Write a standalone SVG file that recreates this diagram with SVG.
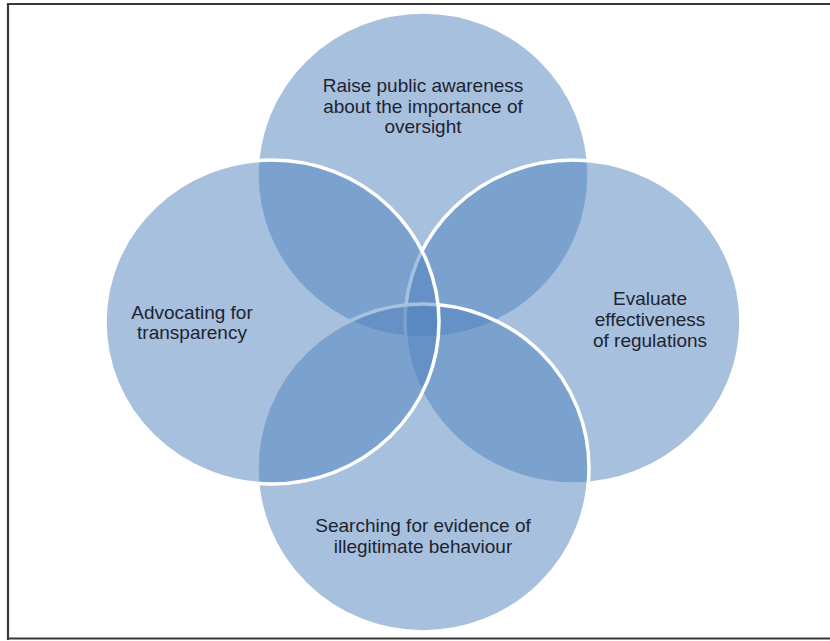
<svg xmlns="http://www.w3.org/2000/svg" width="830" height="641" viewBox="0 0 830 641">
<style>
.c{fill:#4F81BD;fill-opacity:0.5;stroke:#FFFFFF;stroke-width:3.5}
.t{font-family:"Liberation Sans",Arial,sans-serif;font-size:19px;fill:#1E2330;text-anchor:middle}
</style>
<rect x="0" y="0" width="830" height="641" fill="#FFFFFF"/>
<path d="M8 640 V4 H832" fill="none" stroke="#3a3a3a" stroke-width="2.2"/>
<line x1="8" y1="638.5" x2="830" y2="638.5" stroke="#3a3a3a" stroke-width="2.2"/>
<g id="top"><ellipse class="c" cx="423" cy="175" rx="166" ry="163"/></g>
<g id="right"><ellipse class="c" cx="573" cy="322" rx="168" ry="162"/></g>
<g id="bottom"><ellipse class="c" cx="423" cy="468" rx="166" ry="164"/></g>
<g id="left"><ellipse class="c" cx="272" cy="322" rx="167" ry="162"/></g>
<g id="labels">
<text class="t" x="423" y="92">Raise public awareness</text>
<text class="t" x="423" y="112.5">about the importance of</text>
<text class="t" x="423" y="133">oversight</text>
<text class="t" x="192" y="319">Advocating for</text>
<text class="t" x="192" y="339">transparency</text>
<text class="t" x="650" y="305">Evaluate</text>
<text class="t" x="650" y="326">effectiveness</text>
<text class="t" x="650" y="347">of regulations</text>
<text class="t" x="423" y="532">Searching for evidence of</text>
<text class="t" x="423" y="553">illegitimate behaviour</text>
</g>
</svg>
